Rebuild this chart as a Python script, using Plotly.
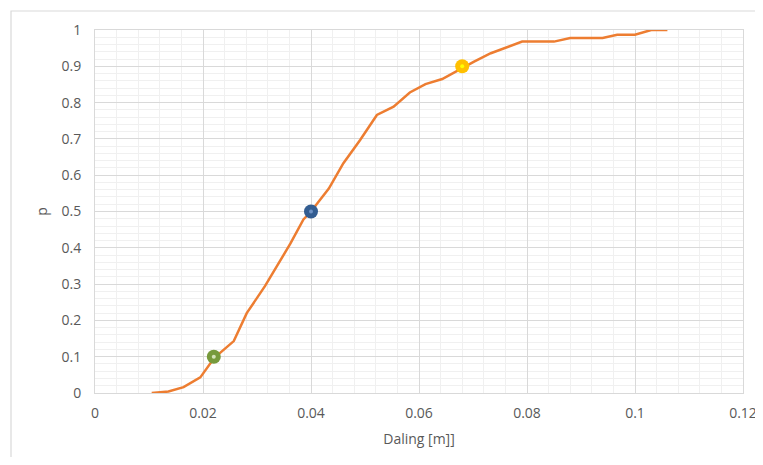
import plotly.graph_objects as go

# Curve data (Daling [m] vs p)
daling = [0.0105, 0.0136, 0.0164, 0.0195, 0.0221, 0.0257, 0.0281, 0.0315, 0.0362, 0.0386,
          0.0400, 0.0433, 0.0460, 0.0491, 0.0522, 0.0553, 0.0583, 0.0612, 0.0643, 0.0683,
          0.0702, 0.0733, 0.0764, 0.0791, 0.0850, 0.0880, 0.0940, 0.0967, 0.1000, 0.1030, 0.1060]
p_vals = [0.0, 0.004, 0.016, 0.043, 0.097, 0.143, 0.220, 0.295, 0.412, 0.478,
          0.500, 0.563, 0.633, 0.697, 0.766, 0.789, 0.828, 0.851, 0.865, 0.899,
          0.913, 0.936, 0.952, 0.968, 0.968, 0.978, 0.978, 0.987, 0.987, 1.0, 1.0]

# Highlighted points
pt_x = [0.022, 0.040, 0.068]
pt_y = [0.1, 0.5, 0.9]
pt_colors = ["#779A3C", "#335D91", "#FFC000"]
pt_centers = ["#D4E2B8", "#6F93C6", "#FFFF00"]

x_ticks = [0, 0.02, 0.04, 0.06, 0.08, 0.1, 0.12]
x_labels = ["0", "0.02", "0.04", "0.06", "0.08", "0.1", "0.12"]
y_ticks = [0, 0.1, 0.2, 0.3, 0.4, 0.5, 0.6, 0.7, 0.8, 0.9, 1]
y_labels = ["0", "0.1", "0.2", "0.3", "0.4", "0.5", "0.6", "0.7", "0.8", "0.9", "1"]

fig = go.Figure()
fig.add_trace(go.Scatter(x=daling, y=p_vals, mode="lines",
                         line=dict(color="#ED7D31", width=2.5), showlegend=False,
                         cliponaxis=False))
fig.add_trace(go.Scatter(x=pt_x, y=pt_y, mode="markers",
                         marker=dict(size=14, color=pt_colors, line=dict(width=0)),
                         showlegend=False, cliponaxis=False))
fig.add_trace(go.Scatter(x=pt_x, y=pt_y, mode="markers",
                         marker=dict(size=4, color=pt_centers, line=dict(width=0)),
                         showlegend=False, cliponaxis=False))

# page body has an 8px margin, so the figure is offset by 8px
OFF = 8
W, H = 763 - OFF, 465 - 2 * OFF
L, T = 95 - OFF, 30 - OFF
pw, ph = 648, 363
R, B = W - L - pw, H - T - ph

def px_to_paper_x(px):
    return (px - OFF - L) / pw

def px_to_paper_y(py):
    return (T + ph - (py - OFF)) / ph

fig.add_shape(type="rect", xref="paper", yref="paper",
              x0=px_to_paper_x(11), x1=px_to_paper_x(780),
              y0=px_to_paper_y(480), y1=px_to_paper_y(11),
              line=dict(color="#D9D9D9", width=1.2), layer="below")

font = dict(family="Open Sans", size=14, color="#595959")

fig.update_layout(
    width=W, height=H, autosize=False,
    margin=dict(l=L, r=R, t=T, b=B, autoexpand=False),
    paper_bgcolor="white", plot_bgcolor="white",
    font=font,
    xaxis=dict(range=[0, 0.12], tickvals=x_ticks, ticktext=x_labels,
               showgrid=True, gridcolor="#D9D9D9", gridwidth=1,
               minor=dict(dtick=0.004, showgrid=True, gridcolor="#F0F0F0", gridwidth=1),
               showline=True, linecolor="#D9D9D9", linewidth=1, mirror=True,
               zeroline=False, ticks="", ticklen=0, ticklabelstandoff=7,
               automargin=False, ticklabeloverflow="allow",
               title=dict(text="Daling [m]]", font=dict(family="Open Sans", size=14, color="#595959"), standoff=13),
               tickfont=font),
    yaxis=dict(range=[0, 1], tickvals=y_ticks, ticktext=y_labels,
               showgrid=True, gridcolor="#D9D9D9", gridwidth=1,
               minor=dict(dtick=0.02, showgrid=True, gridcolor="#F0F0F0", gridwidth=1),
               showline=True, linecolor="#D9D9D9", linewidth=1, mirror=True,
               zeroline=False, ticks="", ticklen=0, ticklabelstandoff=10,
               automargin=False, ticklabeloverflow="allow",
               title=dict(text="p", font=dict(family="Open Sans", size=14, color="#595959"), standoff=10),
               tickfont=font),
)

fig.write_html("out.html")
